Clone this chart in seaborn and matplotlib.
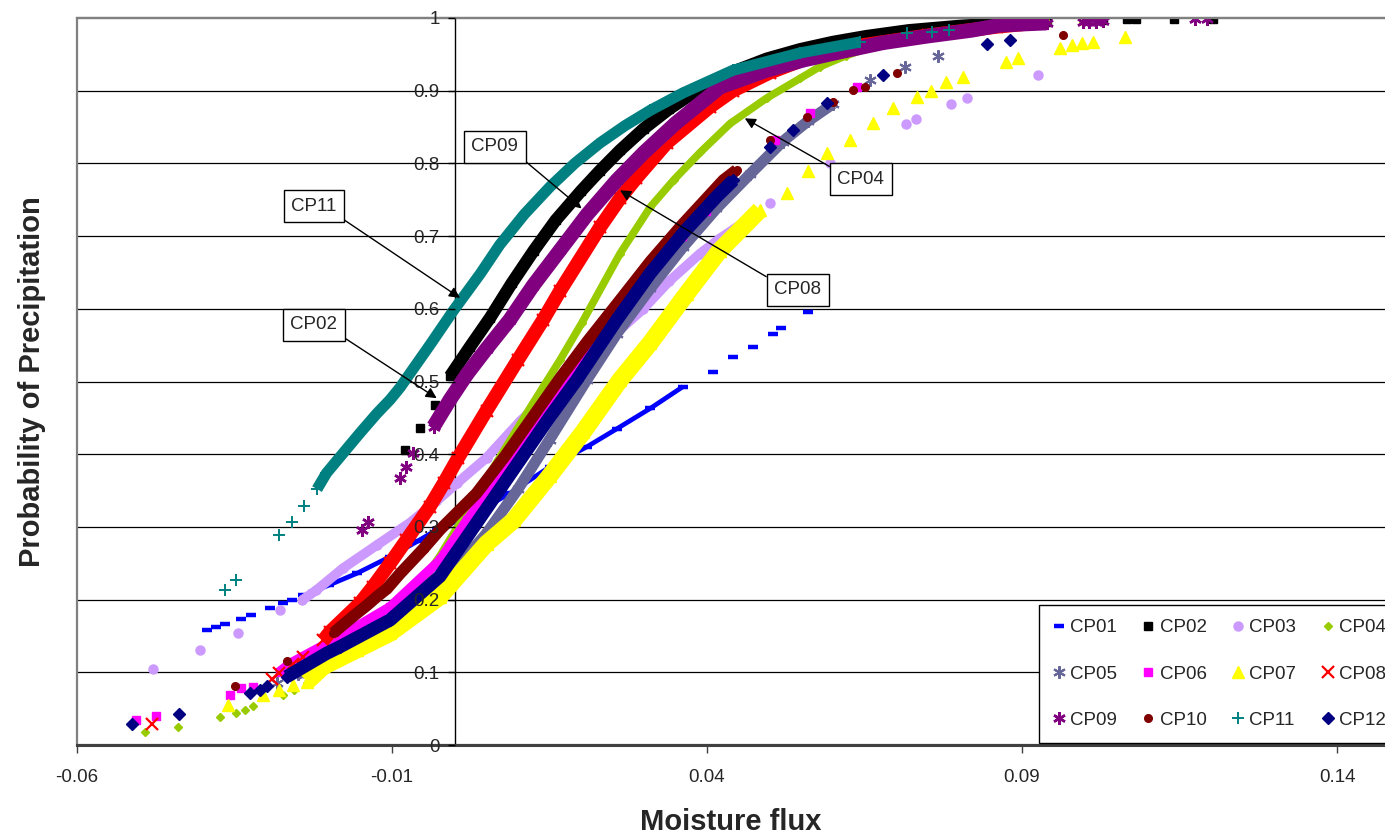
import matplotlib

matplotlib.use("Agg")

import matplotlib.pyplot as plt
from matplotlib.patches import Rectangle
from matplotlib.ticker import FixedLocator, FuncFormatter
import numpy as np
import seaborn as sns

# ---- data (moisture flux, probability of precipitation)
SERIES = ["CP01", "CP02", "CP03", "CP04", "CP05", "CP06",
          "CP07", "CP08", "CP09", "CP10", "CP11", "CP12"]

CP01_X = [-0.0394, -0.0380, -0.0365, -0.0339, -0.0324, -0.0293, -0.0273, -0.0258, -0.0242, -0.0225,
          -0.0200, -0.0156, -0.0103, -0.0060, -0.0029, 0.0030, 0.0087, 0.0151, 0.0209, 0.0257,
          0.0310, 0.0362, 0.0410, 0.0441, 0.0473, 0.0505, 0.0518, 0.0560]
CP01_Y = [0.158, 0.162, 0.166, 0.174, 0.179, 0.189, 0.196, 0.200, 0.207, 0.211,
          0.220, 0.236, 0.259, 0.280, 0.296, 0.318, 0.346, 0.383, 0.410, 0.435,
          0.463, 0.493, 0.513, 0.534, 0.548, 0.566, 0.573, 0.596]

CP02_X = [-0.0079, -0.0056, -0.0032, -0.0008, 0.0024, 0.0056, 0.0090, 0.0125, 0.0160, 0.0200,
          0.0230, 0.0262, 0.0300, 0.0340, 0.0380, 0.0441, 0.0495, 0.0548, 0.0600, 0.0653,
          0.0720, 0.0800, 0.0870, 0.0939, 0.1029, 0.1066, 0.1081, 0.1141, 0.1203]
CP02_Y = [0.406, 0.436, 0.468, 0.507, 0.548, 0.588, 0.635, 0.680, 0.722, 0.762,
          0.790, 0.818, 0.848, 0.875, 0.898, 0.926, 0.944, 0.957, 0.967, 0.975,
          0.983, 0.989, 0.993, 0.995, 0.997, 0.998, 0.998, 0.999, 0.999]

CP03_X = [-0.0480, -0.0405, -0.0345, -0.0278, -0.0243, -0.0220, -0.0178, -0.0124, -0.0071, -0.0030,
          0.0003, 0.0050, 0.0103, 0.0150, 0.0200, 0.0250, 0.0299, 0.0340, 0.0389, 0.0421,
          0.0474, 0.0500, 0.0595, 0.0716, 0.0732, 0.0788, 0.0813, 0.0926]
CP03_Y = [0.105, 0.131, 0.154, 0.186, 0.199, 0.213, 0.243, 0.275, 0.306, 0.335,
          0.360, 0.395, 0.445, 0.484, 0.523, 0.562, 0.600, 0.638, 0.676, 0.697,
          0.728, 0.745, 0.800, 0.854, 0.861, 0.882, 0.890, 0.922]

CP04_X = [-0.0492, -0.0439, -0.0373, -0.0347, -0.0334, -0.0320, -0.0273, -0.0255, -0.0235, -0.0188,
          -0.0150, -0.0103, -0.0060, -0.0024, 0.0025, 0.0074, 0.0120, 0.0167, 0.0201, 0.0262,
          0.0310, 0.0347, 0.0389, 0.0437, 0.0495, 0.0548, 0.0579, 0.0620, 0.0660, 0.0720,
          0.0800, 0.0870, 0.0939, 0.0997]
CP04_Y = [0.018, 0.025, 0.039, 0.044, 0.048, 0.053, 0.069, 0.075, 0.085, 0.117,
          0.140, 0.170, 0.215, 0.260, 0.330, 0.400, 0.465, 0.530, 0.580, 0.676,
          0.740, 0.777, 0.815, 0.855, 0.890, 0.917, 0.933, 0.948, 0.960, 0.972,
          0.983, 0.990, 0.994, 0.995]

CP05_X = [-0.0283, -0.0250, -0.0183, -0.0103, -0.0024, 0.0050, 0.0100, 0.0150, 0.0209, 0.0257,
          0.0310, 0.0362, 0.0415, 0.0468, 0.0520, 0.0560, 0.0600, 0.0659, 0.0714, 0.0767]
CP05_Y = [0.085, 0.097, 0.126, 0.163, 0.218, 0.291, 0.352, 0.420, 0.502, 0.566,
          0.628, 0.685, 0.738, 0.785, 0.830, 0.858, 0.882, 0.915, 0.933, 0.948]

CP06_X = [-0.0506, -0.0475, -0.0357, -0.0339, -0.0320, -0.0278, -0.0262, -0.0183, -0.0103, -0.0024,
          0.0019, 0.0050, 0.0120, 0.0180, 0.0240, 0.0300, 0.0360, 0.0398, 0.0508, 0.0563, 0.0638]
CP06_Y = [0.034, 0.040, 0.069, 0.078, 0.080, 0.101, 0.112, 0.149, 0.190, 0.254,
          0.309, 0.345, 0.430, 0.505, 0.575, 0.640, 0.700, 0.735, 0.832, 0.869, 0.905]

CP07_X = [-0.0360, -0.0304, -0.0280, -0.0257, -0.0235, -0.0209, -0.0156, -0.0103, -0.0024, 0.0050,
          0.0093, 0.0150, 0.0203, 0.0262, 0.0310, 0.0368, 0.0420, 0.0484, 0.0527, 0.0560,
          0.0590, 0.0627, 0.0664, 0.0696, 0.0733, 0.0756, 0.0780, 0.0806, 0.0874, 0.0894,
          0.0960, 0.0979, 0.0995, 0.1013, 0.1063]
CP07_Y = [0.055, 0.069, 0.076, 0.083, 0.087, 0.108, 0.131, 0.154, 0.204, 0.277,
          0.309, 0.370, 0.430, 0.502, 0.553, 0.621, 0.680, 0.736, 0.759, 0.790,
          0.814, 0.832, 0.855, 0.876, 0.892, 0.900, 0.912, 0.919, 0.940, 0.945,
          0.959, 0.963, 0.965, 0.967, 0.974]

CP08_X = [-0.0481, -0.0291, -0.0279, -0.0257, -0.0241, -0.0209, -0.0198, -0.0151, -0.0130, -0.0103,
          -0.0077, -0.0040, -0.0018, 0.0005, 0.0050, 0.0100, 0.0140, 0.0167, 0.0230, 0.0262,
          0.0288, 0.0336, 0.0405, 0.0441, 0.0500, 0.0560, 0.0650, 0.0750, 0.0860, 0.0920]
CP08_Y = [0.029, 0.091, 0.099, 0.112, 0.121, 0.144, 0.156, 0.195, 0.218, 0.250,
          0.282, 0.328, 0.360, 0.395, 0.460, 0.530, 0.585, 0.625, 0.712, 0.752,
          0.780, 0.828, 0.878, 0.900, 0.925, 0.945, 0.963, 0.976, 0.988, 0.993]

CP09_X = [-0.0148, -0.0138, -0.0087, -0.0077, -0.0067, -0.0034, -0.0008, 0.0019, 0.0050, 0.0087,
          0.0124, 0.0167, 0.0210, 0.0257, 0.0300, 0.0350, 0.0421, 0.0495, 0.0553, 0.0620,
          0.0680, 0.0750, 0.0820, 0.0865, 0.0885, 0.0939, 0.0997, 0.1007, 0.1018, 0.1029,
          0.1175, 0.1193]
CP09_Y = [0.296, 0.307, 0.367, 0.383, 0.401, 0.438, 0.475, 0.510, 0.545, 0.585,
          0.632, 0.681, 0.730, 0.777, 0.815, 0.855, 0.905, 0.928, 0.942, 0.955,
          0.966, 0.975, 0.983, 0.990, 0.991, 0.993, 0.995, 0.995, 0.995, 0.996,
          0.998, 0.998]

CP10_X = [-0.0349, -0.0266, -0.0193, -0.0181, -0.0156, -0.0140, -0.0124, -0.0108, -0.0087, -0.0050,
          -0.0024, 0.0034, 0.0080, 0.0124, 0.0167, 0.0210, 0.0262, 0.0310, 0.0360, 0.0426,
          0.0447, 0.0500, 0.0558, 0.0600, 0.0632, 0.0650, 0.0701, 0.0965]
CP10_Y = [0.081, 0.116, 0.154, 0.163, 0.181, 0.192, 0.204, 0.215, 0.236, 0.270,
          0.296, 0.346, 0.398, 0.452, 0.505, 0.555, 0.612, 0.665, 0.715, 0.777,
          0.791, 0.832, 0.864, 0.885, 0.901, 0.905, 0.925, 0.977]

CP11_X = [-0.0365, -0.0348, -0.0280, -0.0259, -0.0239, -0.0219, -0.0204, -0.0178, -0.0151, -0.0124,
          -0.0103, -0.0087, -0.0040, -0.0003, 0.0040, 0.0071, 0.0110, 0.0151, 0.0190, 0.0230,
          0.0270, 0.0310, 0.0362, 0.0441, 0.0548, 0.0643, 0.0717, 0.0757, 0.0784]
CP11_Y = [0.213, 0.227, 0.289, 0.307, 0.329, 0.352, 0.374, 0.401, 0.429, 0.456,
          0.475, 0.492, 0.550, 0.597, 0.648, 0.688, 0.730, 0.768, 0.800, 0.828,
          0.852, 0.873, 0.897, 0.928, 0.952, 0.967, 0.979, 0.981, 0.983]

CP12_X = [-0.0512, -0.0438, -0.0325, -0.0310, -0.0299, -0.0267, -0.0204, -0.0183, -0.0103, -0.0024,
          0.0030, 0.0100, 0.0151, 0.0193, 0.0257, 0.0310, 0.0362, 0.0415, 0.0442, 0.0500,
          0.0537, 0.0590, 0.0680, 0.0844, 0.0881]
CP12_Y = [0.029, 0.042, 0.071, 0.076, 0.081, 0.094, 0.126, 0.135, 0.172, 0.232,
          0.300, 0.388, 0.452, 0.502, 0.585, 0.649, 0.704, 0.754, 0.777, 0.822,
          0.846, 0.883, 0.921, 0.964, 0.970]

FLUX = dict(zip(SERIES, [CP01_X, CP02_X, CP03_X, CP04_X, CP05_X, CP06_X,
                         CP07_X, CP08_X, CP09_X, CP10_X, CP11_X, CP12_X]))
PROB = dict(zip(SERIES, [CP01_Y, CP02_Y, CP03_Y, CP04_Y, CP05_Y, CP06_Y,
                         CP07_Y, CP08_Y, CP09_Y, CP10_Y, CP11_Y, CP12_Y]))

X_TICKS = [-0.06, -0.01, 0.04, 0.09, 0.14]
Y_TICKS = [0, 0.1, 0.2, 0.3, 0.4, 0.5, 0.6, 0.7, 0.8, 0.9, 1.0]

# callouts: label, arrow tip, box centre, corner the arrow leaves from
CALLOUTS = [
    ("CP11", (0.0008, 0.615), (-0.0224, 0.741), (1, 0)),
    ("CP02", (-0.0029, 0.477), (-0.0224, 0.578), (1, 0)),
    ("CP09", (0.0201, 0.738), (0.0063, 0.823), (1, 0)),
    ("CP04", (0.0460, 0.862), (0.0644, 0.778), (0, 1)),
    ("CP08", (0.0262, 0.763), (0.0544, 0.626), (0, 1)),
]

# ---- styling (Excel 2003 palette)
ASTERISK = (6, 2, 0)
STYLE = {
    "CP01": dict(color="#0000FF", marker="_", ms=6.5, mew=3.2, band=3.4, dense=(-0.0225, 0.0362)),
    "CP02": dict(color="#000000", marker="s", ms=5.5, mew=1.0, band=9.0, dense=(-0.0008, 0.0939)),
    "CP03": dict(color="#CC99FF", marker="o", ms=6.5, mew=1.0, band=7.0, dense=(-0.0243, 0.0474)),
    "CP04": dict(color="#99CC00", marker="D", ms=4.0, mew=1.0, band=5.5, dense=(-0.0235, 0.0939)),
    "CP05": dict(color="#666699", marker=ASTERISK, ms=9.0, mew=1.5, band=8.0, dense=(-0.0250, 0.0600)),
    "CP06": dict(color="#FF00FF", marker="s", ms=5.5, mew=1.0, band=7.0, dense=(-0.0278, 0.0398)),
    "CP07": dict(color="#FFFF00", marker="^", ms=8.0, mew=1.0, band=12.5, dense=(-0.0235, 0.0484)),
    "CP08": dict(color="#FF0000", marker="x", ms=8.0, mew=1.6, band=10.0, dense=(-0.0209, 0.0920)),
    "CP09": dict(color="#800080", marker=ASTERISK, ms=9.0, mew=1.8, band=10.5, dense=(-0.0034, 0.0939)),
    "CP10": dict(color="#800000", marker="o", ms=5.5, mew=1.0, band=8.5, dense=(-0.0193, 0.0447)),
    "CP11": dict(color="#008080", marker="+", ms=8.0, mew=1.4, band=8.0, dense=(-0.0219, 0.0643)),
    "CP12": dict(color="#000080", marker="D", ms=6.5, mew=1.0, band=9.5, dense=(-0.0267, 0.0442)),
}

FONT = ["Liberation Sans", "DejaVu Sans"]
BORDER = "#808080"

sns.set_theme(style="white")
plt.rcParams.update({
    "font.family": FONT,
    "font.size": 13.5,
    "axes.facecolor": "white",
    "figure.facecolor": "white",
})

fig = plt.figure(figsize=(13.85, 8.35), dpi=100)
ax = fig.add_axes([77 / 1385, 90 / 835, 1308 / 1385, 727 / 835])

handles = {}
for name in SERIES:
    st = STYLE[name]
    xs = np.array(FLUX[name])
    ys = np.array(PROB[name])
    lo, hi = st["dense"]
    mask = (xs >= lo) & (xs <= hi)
    # the tightly packed markers read as a solid band
    sns.lineplot(x=xs[mask], y=ys[mask], ax=ax, color=st["color"], linewidth=st["band"],
                 sort=False, estimator=None, legend=False, solid_capstyle="butt")
    (h,) = ax.plot(xs, ys, linestyle="none", marker=st["marker"], markersize=st["ms"],
                   markeredgewidth=st["mew"], color=st["color"],
                   markeredgecolor=st["color"], markerfacecolor=st["color"])
    handles[name] = h

ax.set_xlim(-0.06, -0.06 + 1308 / 6300)
ax.set_ylim(0, 1)

# horizontal gridlines sit under the data, tick labels stay on top
for level in Y_TICKS[1:-1]:
    ax.axhline(level, color="black", linewidth=0.9, zorder=0.5)

# axis frame: y axis crosses at zero, grey plot-area border elsewhere
ax.spines["left"].set_position(("data", 0))
ax.spines["left"].set_color("black")
ax.spines["left"].set_linewidth(1.0)
ax.spines["left"].set_zorder(1)
ax.spines["right"].set_visible(False)
ax.spines["top"].set_color(BORDER)
ax.spines["top"].set_linewidth(1.6)
ax.spines["bottom"].set_color("#404040")
ax.spines["bottom"].set_linewidth(2.2)
ax.add_patch(Rectangle((0, 0), 1.5, 1, transform=ax.transAxes, fill=False,
                       edgecolor=BORDER, linewidth=1.6, clip_on=False, zorder=0.6))

ax.xaxis.set_major_locator(FixedLocator(X_TICKS))
ax.xaxis.set_major_formatter(FuncFormatter(lambda v, _: f"{v:g}"))
ax.yaxis.set_major_locator(FixedLocator(Y_TICKS))
ax.yaxis.set_major_formatter(FuncFormatter(lambda v, _: f"{v:g}"))
ax.tick_params(axis="x", direction="out", length=6, width=1, color="#404040",
               pad=11, labelsize=13.5, bottom=True)
ax.tick_params(axis="y", direction="out", length=5, width=1, color="black",
               pad=6, labelsize=13.5, left=True)
ax.set_axisbelow(False)
ax.grid(False)

ax.set_xlabel("Moisture flux", fontsize=21, fontweight="bold", labelpad=16)
ax.set_ylabel("Probability of Precipitation", fontsize=21, fontweight="bold")
ax.yaxis.set_label_coords((46 - 77) / 1308, 0.5, transform=ax.transAxes)

for label, tip, centre, corner in CALLOUTS:
    ax.annotate(label, xy=tip, xytext=centre, ha="center", va="center", fontsize=13.5,
                bbox=dict(boxstyle="square,pad=0.4", facecolor="white", edgecolor="black",
                          linewidth=1.0),
                arrowprops=dict(arrowstyle="-|>", color="black", linewidth=1.0,
                                relpos=corner, shrinkA=0, shrinkB=0, mutation_scale=16),
                zorder=10)

order = [0, 4, 8, 1, 5, 9, 2, 6, 10, 3, 7, 11]
leg = ax.legend([handles[SERIES[i]] for i in order], [SERIES[i] for i in order],
                ncol=4, loc="lower left", bbox_to_anchor=((1039 - 77) / 1308, 0.003),
                fontsize=13.5, handlelength=0.6, handletextpad=0.3, columnspacing=1.38,
                labelspacing=1.55, borderpad=0.75, borderaxespad=0, frameon=True,
                fancybox=False, framealpha=1, edgecolor="black")
leg.get_frame().set_linewidth(1.0)
leg.set_zorder(20)

fig.savefig("out.png", dpi=100)
